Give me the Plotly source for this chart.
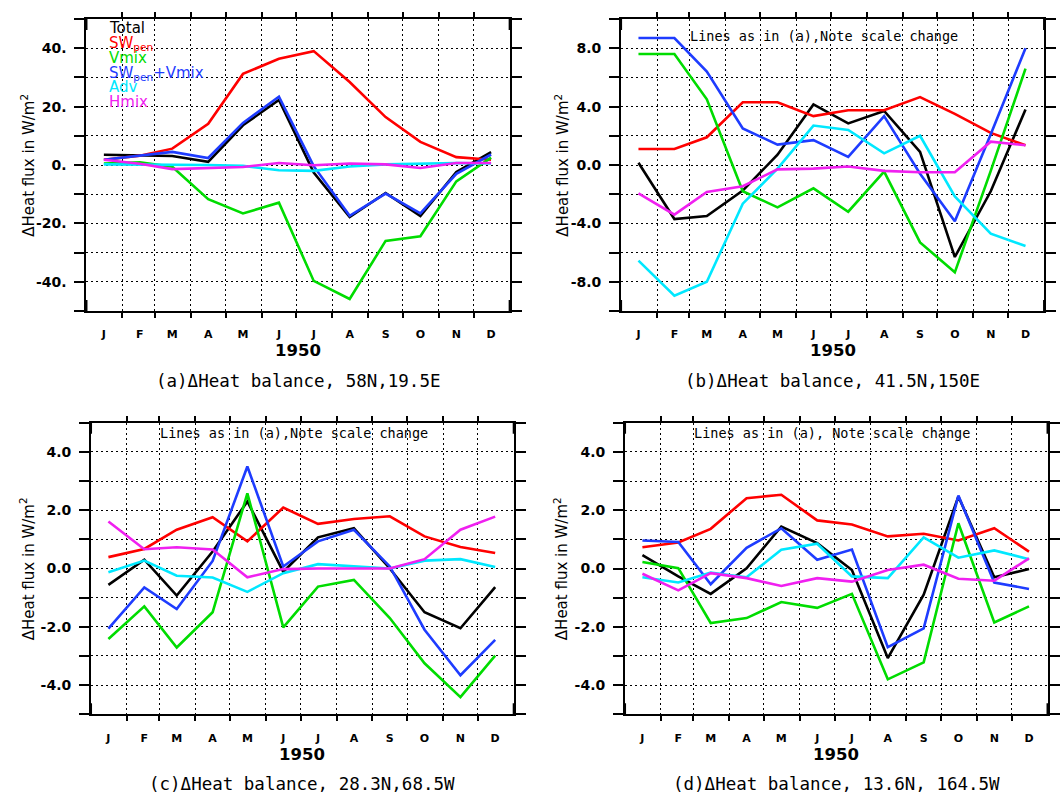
import plotly.graph_objects as go

W, H = 1060, 796

months = ["J", "F", "M", "A", "M", "J", "J", "A", "S", "O", "N", "D"]
mid_dates = [f"1950-{m:02d}-16" for m in range(1, 13)]
month_starts = [f"1950-{m:02d}-01" for m in range(2, 13)]

# ---- panel (a) 58N,19.5E ----
a_total = [3.5, 3.4, 3.1, 1.1, 13.6, 22.3, -2.6, -17.8, -9.6, -17.5, -2.4, 4.4]
a_swpen = [1.8, 3.2, 5.6, 14.1, 31.2, 36.4, 39.0, 28.4, 16.4, 7.9, 2.7, 1.8]
a_vmix = [0.5, 0.9, -0.6, -11.7, -16.6, -12.9, -39.7, -45.9, -26.0, -24.4, -5.6, 2.5]
a_swvm = [1.8, 3.2, 4.5, 2.4, 14.4, 23.4, -0.4, -17.4, -9.8, -16.6, -3.0, 3.6]
a_adv = [0.2, 0.2, 0.1, 0.0, -0.3, -1.8, -2.0, -0.5, 0.2, 0.4, 0.7, 0.5]
a_hmix = [1.8, 0.4, -1.4, -1.1, -0.7, 0.7, -0.1, 0.5, 0.2, -1.0, 0.7, 0.7]

# ---- panel (b) 41.5N,150E ----
b_total = [0.15, -3.7, -3.5, -1.75, 0.7, 4.15, 2.85, 3.7, 0.9, -6.3, -1.8, 3.8]
b_swpen = [1.1, 1.1, 1.9, 4.3, 4.3, 3.35, 3.75, 3.75, 4.65, 3.5, 2.2, 1.35]
b_vmix = [7.6, 7.6, 4.5, -1.8, -2.9, -1.6, -3.2, -0.45, -5.3, -7.35, -0.4, 6.6]
b_swvm = [8.7, 8.7, 6.4, 2.5, 1.4, 1.7, 0.55, 3.35, -0.6, -3.85, 2.1, 8.0]
b_adv = [-6.55, -8.95, -8.0, -2.65, -0.25, 2.7, 2.4, 0.8, 2.0, -2.15, -4.7, -5.55]
b_hmix = [-1.95, -3.4, -1.85, -1.45, -0.3, -0.25, -0.1, -0.4, -0.5, -0.5, 1.6, 1.35]

# ---- panel (c) 28.3N,68.5W ----
c_total = [-0.56, 0.3, -0.93, 0.58, 2.3, -0.11, 1.07, 1.38, 0.0, -1.5, -2.05, -0.64]
c_swpen = [0.39, 0.67, 1.33, 1.76, 0.93, 2.09, 1.53, 1.7, 1.79, 1.1, 0.74, 0.53]
c_vmix = [-2.42, -1.3, -2.71, -1.5, 2.58, -2.02, -0.62, -0.39, -1.7, -3.25, -4.41, -2.99]
c_swvm = [-2.06, -0.65, -1.39, 0.26, 3.5, 0.07, 0.93, 1.33, 0.07, -2.1, -3.66, -2.45]
c_adv = [-0.13, 0.27, -0.25, -0.31, -0.8, -0.16, 0.15, 0.07, 0.0, 0.27, 0.32, 0.05]
c_hmix = [1.61, 0.66, 0.73, 0.65, -0.3, -0.02, 0.0, 0.0, 0.0, 0.32, 1.33, 1.78]

# ---- panel (d) 13.6N,164.5W ----
d_total = [0.46, -0.27, -0.87, 0.01, 1.44, 0.87, -0.05, -3.07, -0.9, 2.47, -0.3, -0.02]
d_swpen = [0.73, 0.89, 1.36, 2.41, 2.53, 1.65, 1.51, 1.1, 1.19, 0.96, 1.38, 0.58]
d_vmix = [0.22, 0.01, -1.87, -1.7, -1.15, -1.35, -0.87, -3.8, -3.22, 1.55, -1.85, -1.3]
d_swvm = [0.96, 0.91, -0.54, 0.71, 1.38, 0.3, 0.65, -2.7, -2.05, 2.5, -0.48, -0.7]
d_adv = [-0.3, -0.48, -0.14, -0.3, 0.64, 0.85, -0.27, -0.33, 1.07, 0.37, 0.62, 0.32]
d_hmix = [-0.18, -0.75, -0.16, -0.33, -0.6, -0.33, -0.45, -0.05, 0.13, -0.35, -0.42, 0.35]

series_names = ["Total", "SW<sub>pen</sub>", "Vmix", "SW<sub>pen</sub>+Vmix", "Adv", "Hmix"]
colors = ["#000000", "#ff0000", "#00dc00", "#1e3cff", "#00e8ff", "#f020f0"]

# panel layout (pixel boxes: left, right, top, bottom)
panels = [
    dict(data=[a_total, a_swpen, a_vmix, a_swvm, a_adv, a_hmix], box=(87.3, 514.5, 19, 311),
         yr=50, ystep=10, ylab={40: "40.", 20: "20.", 0: "0.", -20: "-20.", -40: "-40."},
         caption="(a)\u0394Heat balance, 58N,19.5E", note=None),
    dict(data=[b_total, b_swpen, b_vmix, b_swvm, b_adv, b_hmix], box=(627, 1054, 19, 311),
         yr=10, ystep=2, ylab={8: "8.0", 4: "4.0", 0: "0.0", -4: "-4.0", -8: "-8.0"},
         caption="(b)\u0394Heat balance, 41.5N,150E", note="Lines as in (a),Note scale change"),
    dict(data=[c_total, c_swpen, c_vmix, c_swvm, c_adv, c_hmix], box=(91.9, 518.6, 422.7, 714.3),
         yr=5, ystep=1, ylab={4: "4.0", 2: "2.0", 0: "0.0", -2: "-2.0", -4: "-4.0"},
         caption="(c)\u0394Heat balance, 28.3N,68.5W", note="Lines as in (a),Note scale change"),
    dict(data=[d_total, d_swpen, d_vmix, d_swvm, d_adv, d_hmix], box=(631, 1057.5, 422.7, 714.3),
         yr=5, ystep=1, ylab={4: "4.0", 2: "2.0", 0: "0.0", -2: "-2.0", -4: "-4.0"},
         caption="(d)\u0394Heat balance, 13.6N, 164.5W", note="Lines as in (a), Note scale change"),
]

note_pos = [None, (832, 36), (296.5, 433.3), (840, 433.3)]
ytitle_x = [28, 567, 27, 566]


def px(x):
    return x / W


def py(y):
    return 1 - y / H


fig = go.Figure()
annotations = []
shapes = []
layout = {}

for i, p in enumerate(panels):
    n = i + 1
    xa = "x" if n == 1 else f"x{n}"
    ya = "y" if n == 1 else f"y{n}"
    xkey = "xaxis" if n == 1 else f"xaxis{n}"
    ykey = "yaxis" if n == 1 else f"yaxis{n}"
    l, r, t, b = p["box"]
    for s, (vals, name, col) in enumerate(zip(p["data"], series_names, colors)):
        fig.add_trace(go.Scatter(x=mid_dates, y=vals, mode="lines", name=name,
                                 line=dict(color=col, width=2.6), showlegend=False,
                                 xaxis=xa, yaxis=ya))
    yr, st = p["yr"], p["ystep"]
    nsteps = int(round(2 * yr / st))
    yvals = [-yr + k * st for k in range(nsteps + 1)]
    ytext = [p["ylab"].get(int(round(v)), "") for v in yvals]
    layout[xkey] = dict(
        type="date", domain=[px(l), px(r)], range=["1950-01-01", "1951-01-01"],
        anchor=ya, tickmode="array", tickvals=mid_dates, ticktext=months, ticks="",
        showgrid=False, zeroline=False, showline=True, linewidth=2, linecolor="black",
        mirror="allticks", ticklabelstandoff=12,
        tickfont=dict(family="DejaVu Sans", size=11, color="black", weight="bold"),
        minor=dict(tickmode="array", tickvals=month_starts, ticks="outside", ticklen=5,
                   tickwidth=2, tickcolor="black", showgrid=True, gridcolor="black",
                   griddash="2px,3px", gridwidth=1),
        fixedrange=True,
    )
    layout[ykey] = dict(
        domain=[py(b), py(t)], range=[-yr, yr], anchor=xa,
        tickmode="array", tickvals=yvals, ticktext=ytext, ticks="outside", ticklen=10,
        tickwidth=2, tickcolor="black", showline=True, linewidth=2, linecolor="black",
        mirror="allticks", showgrid=True, gridcolor="black", griddash="2px,3px",
        gridwidth=1, zeroline=False, ticklabelstandoff=5,
        tickfont=dict(family="DejaVu Sans", size=14, color="black", weight="bold"),
        fixedrange=True,
    )
    # frame corner stubs (vertical frame lines extend beyond top/bottom)
    for xd in (0, 1):
        for yanc in (-yr, yr):
            shapes.append(dict(type="line", xref=f"{xa} domain", yref=ya, x0=xd, x1=xd,
                               ysizemode="pixel", yanchor=yanc, y0=-11, y1=11,
                               line=dict(color="black", width=2)))
    cx = (l + r) / 2
    # year label
    annotations.append(dict(text="1950", x=px(cx), y=py(b + 40), xref="paper", yref="paper",
                            showarrow=False, xanchor="center", yanchor="middle",
                            font=dict(family="DejaVu Sans", size=16.5, color="black",
                                      weight="bold")))
    # caption
    annotations.append(dict(text=p["caption"], x=px(cx), y=py(b + 70), xref="paper", yref="paper",
                            showarrow=False, xanchor="center", yanchor="middle",
                            font=dict(family="DejaVu Sans Mono", size=17.5, color="black")))
    # y-axis title
    annotations.append(dict(text="\u0394Heat flux in W/m<sup>2</sup>", x=px(ytitle_x[i]),
                            y=py((t + b) / 2), xref="paper", yref="paper", textangle=-90,
                            showarrow=False, xanchor="center", yanchor="middle",
                            font=dict(family="DejaVu Sans", size=15, color="black")))
    if p["note"]:
        nx, ny = note_pos[i]
        annotations.append(dict(text=p["note"], x=px(nx), y=py(ny), xref="paper", yref="paper",
                                showarrow=False, xanchor="center", yanchor="middle",
                                font=dict(family="DejaVu Sans Mono", size=13.5, color="black")))

# legend text in panel (a)
leg_y = [28.3, 43.5, 58.3, 73.5, 87.3, 101.7]
for name, col, yy in zip(series_names, colors, leg_y):
    annotations.append(dict(text=name, x=px(108), y=py(yy), xref="paper", yref="paper",
                            showarrow=False, xanchor="left", yanchor="middle",
                            font=dict(family="DejaVu Sans", size=15, color=col)))

fig.update_layout(
    width=W, height=H, autosize=False,
    margin=dict(l=0, r=0, t=0, b=0, pad=0),
    paper_bgcolor="white", plot_bgcolor="white",
    showlegend=False, annotations=annotations, shapes=shapes,
    **layout,
)

fig.write_html("out.html", config={"displayModeBar": False},
               post_script="document.body.style.margin='0';document.body.style.overflow='hidden';")
